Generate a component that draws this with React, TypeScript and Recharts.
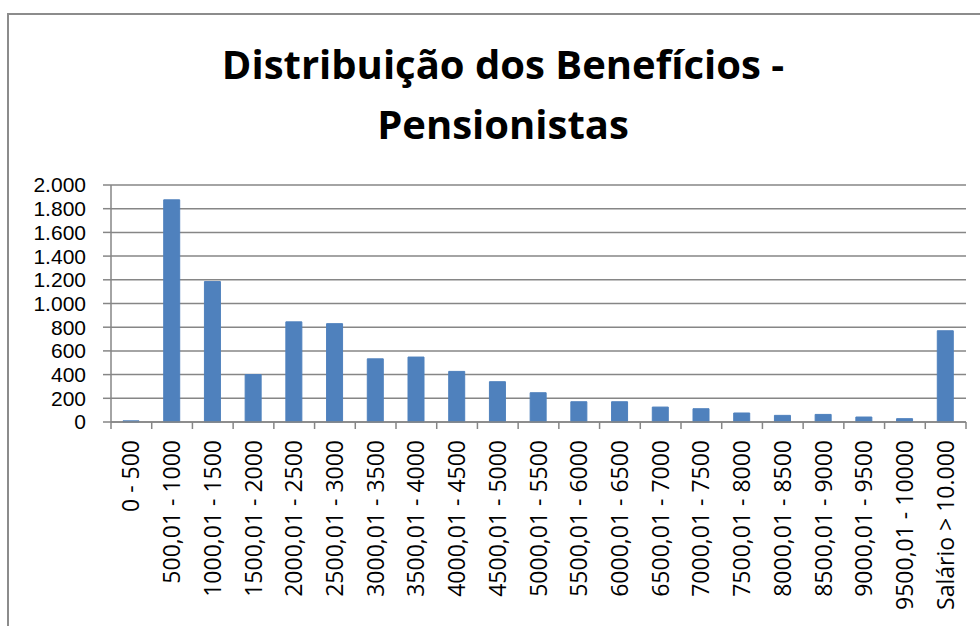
import { BarChart, Bar, XAxis, YAxis, CartesianGrid } from "recharts";

const faixas = [
  "0 - 500",
  "500,01 - 1000",
  "1000,01 - 1500",
  "1500,01 - 2000",
  "2000,01 - 2500",
  "2500,01 - 3000",
  "3000,01 - 3500",
  "3500,01 - 4000",
  "4000,01 - 4500",
  "4500,01 - 5000",
  "5000,01 - 5500",
  "5500,01 - 6000",
  "6000,01 - 6500",
  "6500,01 - 7000",
  "7000,01 - 7500",
  "7500,01 - 8000",
  "8000,01 - 8500",
  "8500,01 - 9000",
  "9000,01 - 9500",
  "9500,01 - 10000",
  "Salário > 10.000",
];

const pensionistas = [
  10, 1875, 1185, 400, 845, 830, 533, 548, 427, 340, 247, 171, 171, 126, 112,
  76, 56, 64, 42, 28, 770,
];

const yTicks = [0, 200, 400, 600, 800, 1000, 1200, 1400, 1600, 1800, 2000];

const chartData = faixas.map((faixa, i) => ({
  faixa,
  valor: pensionistas[i],
}));

const W = 980;
const H = 626;
const PLOT_LEFT = 111;
const PLOT_RIGHT = 966;
const PLOT_TOP = 185;
const PLOT_BOTTOM = 422;
const BAND = (PLOT_RIGHT - PLOT_LEFT) / faixas.length;
const GRAY = "#868686";
const FONT = "'Open Sans', 'Liberation Sans', sans-serif";
const Y_FONT = "'Liberation Sans', Arial, sans-serif";

// "2000" -> "2.000"
const fmt = (v: number) => String(v).replace(/\B(?=(\d{3})+(?!\d))/g, ".");

function XTick(props: any) {
  const { x, y, payload, index } = props;
  const half = BAND / 2;
  return (
    <g transform={`translate(${x},${y})`}>
      <line x1={-half} x2={-half} y1={0} y2={7} stroke={GRAY} strokeWidth={1.5} />
      {index === faixas.length - 1 && (
        <line x1={half} x2={half} y1={0} y2={7} stroke={GRAY} strokeWidth={1.5} />
      )}
      <text
        transform="rotate(-90)"
        x={-18}
        y={0}
        dy="0.35em"
        textAnchor="end"
        fontFamily={FONT}
        fontSize={23}
        fill="#000"
      >
        {payload.value}
      </text>
    </g>
  );
}

export default function App() {
  return (
    <div
      style={{
        position: "absolute",
        left: 0,
        top: 0,
        width: W,
        height: H,
        overflow: "hidden",
        background: "#fff",
      }}
    >
      <div
        style={{
          position: "absolute",
          left: 7,
          top: 13,
          width: 1100,
          height: 800,
          border: "2px solid #8c8c8c",
        }}
      />
      <svg
        width={W}
        height={160}
        style={{ position: "absolute", left: 0, top: 0 }}
      >
        <text
          x={503}
          y={79}
          textAnchor="middle"
          fontFamily={FONT}
          fontWeight="bold"
          fontSize={40}
          fill="#000"
        >
          Distribuição dos Benefícios -
        </text>
        <text
          x={503}
          y={139}
          textAnchor="middle"
          fontFamily={FONT}
          fontWeight="bold"
          fontSize={40}
          fill="#000"
        >
          Pensionistas
        </text>
      </svg>
      <div style={{ position: "absolute", left: 0, top: 0 }}>
        <BarChart
          width={W}
          height={H}
          data={chartData}
          margin={{ top: PLOT_TOP, right: W - PLOT_RIGHT, left: 0, bottom: 0 }}
          barSize={16}
        >
          <CartesianGrid vertical={false} stroke={GRAY} strokeWidth={1.5} />
          <XAxis
            dataKey="faixa"
            height={H - PLOT_BOTTOM}
            interval={0}
            tickLine={false}
            tickSize={0}
            tickMargin={0}
            axisLine={{ stroke: GRAY, strokeWidth: 1.5 }}
            tick={<XTick />}
          />
          <YAxis
            width={PLOT_LEFT}
            domain={[0, 2000]}
            ticks={yTicks}
            interval={0}
            tickFormatter={fmt}
            tickSize={8}
            tickMargin={17}
            tickLine={{ stroke: GRAY, strokeWidth: 1.5 }}
            axisLine={{ stroke: GRAY, strokeWidth: 1.5 }}
            tick={{ fill: "#000", fontSize: 21, fontFamily: Y_FONT }}
          />
          <Bar
            dataKey="valor"
            fill="#4F81BD"
            stroke="#4F81BD"
            isAnimationActive={false}
          />
        </BarChart>
      </div>
    </div>
  );
}
